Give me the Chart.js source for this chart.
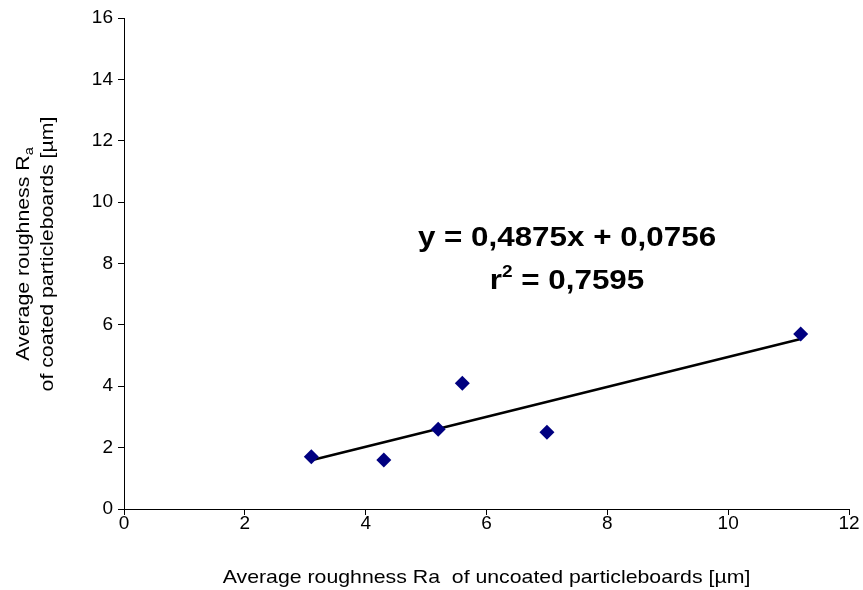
<!DOCTYPE html>
<html lang="en">
<head>
    <meta charset="UTF-8">
    <title>Roughness scatter</title>
    <script src="https://cdn.jsdelivr.net/npm/chart.js"></script>
    <style>
        html, body { margin: 0; padding: 0; background: #fff; }
        #wrap { width: 863px; height: 590px; }
    </style>
</head>
<body>
    <div id="wrap"><canvas id="myChart" width="863" height="590"></canvas></div>

    <script>
    // measured points: uncoated Ra (x) vs coated Ra (y)
    const uncoatedRa = [3.1, 4.3, 5.2, 5.6, 7.0, 11.2];
    const coatedRa = [1.7, 1.6, 2.6, 4.1, 2.5, 5.7];

    // trend line ends
    const trendX = [3.1, 11.2];
    const trendY = [1.59, 5.54];

    const xTicks = [0, 2, 4, 6, 8, 10, 12];
    const yTicks = [0, 2, 4, 6, 8, 10, 12, 14, 16];

    const eqLine1 = 'y = 0,4875x + 0,0756';
    const eqLine2 = ' = 0,7595';

    const FONT = '"Liberation Sans", Arial, sans-serif';
    const STRETCH = 1.12; // the original text is a bit wider than plain Arial

    // draw text stretched along its own direction
    function wideText(ctx, txt, x, y, font, align) {
        ctx.save();
        ctx.font = font;
        ctx.translate(x, y);
        ctx.scale(STRETCH, 1);
        ctx.textAlign = align || 'left';
        ctx.fillText(txt, 0, 0);
        ctx.restore();
    }
    function wideWidth(ctx, txt, font) {
        ctx.save();
        ctx.font = font;
        const w = ctx.measureText(txt).width * STRETCH;
        ctx.restore();
        return w;
    }

    // axis titles + equation drawn by hand (subscript / superscript)
    const textPlugin = {
        id: 'texts',
        afterDraw(chart) {
            const ctx = chart.ctx;
            const area = chart.chartArea;
            const fTitle = '19px ' + FONT;
            const fSub = '13px ' + FONT;
            ctx.save();
            ctx.fillStyle = '#000';
            ctx.textBaseline = 'alphabetic';

            // x title
            wideText(ctx, 'Average roughness Ra  of uncoated particleboards [\u00b5m]',
                (area.left + area.right) / 2, 583, fTitle, 'center');

            // y title, rotated
            ctx.save();
            ctx.translate(29, 254);
            ctx.rotate(-Math.PI / 2);
            const main = 'Average roughness R';
            const w1 = wideWidth(ctx, main, fTitle);
            const w2 = wideWidth(ctx, 'a', fSub);
            const sx = -(w1 + w2) / 2;
            wideText(ctx, main, sx, 0, fTitle, 'left');
            wideText(ctx, 'a', sx + w1, 4, fSub, 'left');
            wideText(ctx, 'of coated particleboards [\u00b5m]', 0, 24, fTitle, 'center');
            ctx.restore();

            // regression text
            const fb = 'bold 28px ' + FONT;
            const fsup = 'bold 17px ' + FONT;
            wideText(ctx, eqLine1, 567, 246, fb, 'center');
            const wr = wideWidth(ctx, 'r', fb);
            const wSup = wideWidth(ctx, '2', fsup);
            const wRest = wideWidth(ctx, eqLine2, fb);
            const x0 = 567 - (wr + wSup + wRest) / 2;
            wideText(ctx, 'r', x0, 289, fb, 'left');
            wideText(ctx, '2', x0 + wr, 277, fsup, 'left');
            wideText(ctx, eqLine2, x0 + wr + wSup, 289, fb, 'left');
            ctx.restore();
        }
    };

    const ctx = document.getElementById('myChart');
    new Chart(ctx, {
        type: 'scatter',
        data: {
            datasets: [
                {
                    label: 'trend',
                    type: 'line',
                    data: trendX.map((x, i) => ({ x: x, y: trendY[i] })),
                    borderColor: '#000',
                    borderWidth: 2.5,
                    pointRadius: 0,
                    fill: false,
                    order: 2
                },
                {
                    label: 'points',
                    data: uncoatedRa.map((x, i) => ({ x: x, y: coatedRa[i] })),
                    pointStyle: 'rectRot',
                    pointRadius: 7.5,
                    backgroundColor: '#000080',
                    borderColor: '#000080',
                    borderWidth: 0,
                    order: 1
                }
            ]
        },
        options: {
            responsive: false,
            animation: false,
            layout: { padding: { left: 0, right: 14, top: 18, bottom: 0 } },
            plugins: {
                legend: { display: false },
                tooltip: { enabled: false }
            },
            scales: {
                x: {
                    type: 'linear',
                    min: 0,
                    max: 12,
                    afterBuildTicks: axis => { axis.ticks = xTicks.map(v => ({ value: v })); },
                    afterFit: axis => { axis.height = 81; },
                    grid: { display: true, drawOnChartArea: false, drawTicks: true, tickLength: 6, color: '#000', lineWidth: 1 },
                    border: { display: true, color: '#000', width: 1 },
                    ticks: { color: '#000', font: { family: FONT, size: 19 }, padding: -3, maxRotation: 0 }
                },
                y: {
                    type: 'linear',
                    min: 0,
                    max: 16,
                    afterBuildTicks: axis => { axis.ticks = yTicks.map(v => ({ value: v })); },
                    afterFit: axis => { axis.width = 124; },
                    grid: { display: true, drawOnChartArea: false, drawTicks: true, tickLength: 6, color: '#000', lineWidth: 1 },
                    border: { display: true, color: '#000', width: 1 },
                    ticks: { color: '#000', font: { family: FONT, size: 19 }, padding: 5 }
                }
            }
        },
        plugins: [textPlugin]
    });
    </script>
</body>
</html>
